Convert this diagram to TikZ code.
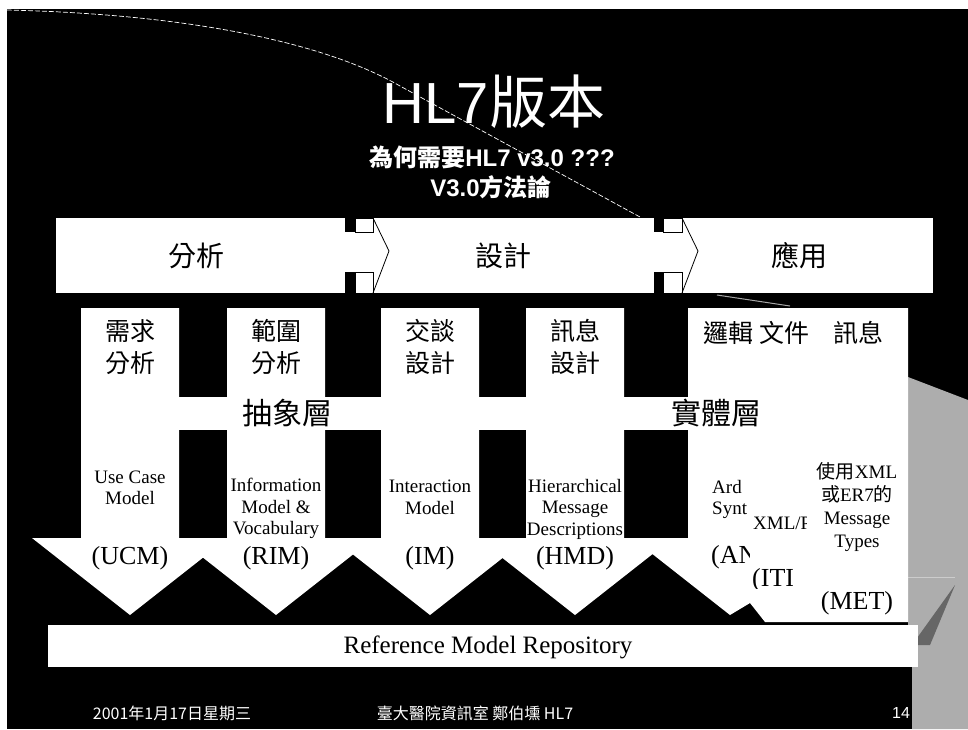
\documentclass[tikz,border=0pt]{standalone}
\usepackage{fontspec}
\setmainfont{Liberation Serif}
\setsansfont{Liberation Sans}
\newfontfamily\cjk{Noto Sans CJK TC}
\begin{document}
\begin{tikzpicture}[x=1pt,y=-1pt,
  bandtxt/.style={font=\cjk\fontsize{28}{30}\selectfont, text=black, inner sep=0pt},
  hdrtxt/.style={font=\cjk\fontsize{25}{32}\selectfont, text=black, align=center, inner sep=0pt},
  layertxt/.style={font=\cjk\fontsize{30}{32}\selectfont, text=black, inner sep=0pt},
  modeltxt/.style={font=\fontsize{19}{21.5}\selectfont, text=black, align=center, inner sep=0pt},
  abbrtxt/.style={font=\fontsize{26}{28}\selectfont, text=black, inner sep=0pt},
  foottxt/.style={font=\cjk\fontsize{16}{18}\selectfont, text=white, inner sep=0pt},
  edgeline/.style={draw=black, line width=0.8pt},
  curlline/.style={draw=white, line width=0.7pt, dash pattern=on 5pt off 2pt}
]
\useasboundingbox (0,0) rectangle (968,729);
% background
\fill[white] (0,0) rectangle (968,729);
\fill[black] (7,9) rectangle (968,729);
% page-curl edge line
\draw[curlline] (7,10) .. controls (180,14) and (320,40) .. (400,86) -- (640,217);
\draw[draw=black!35, line width=1pt] (717,295) -- (790,306);
% grey region at right
\fill[black!32] (908,377) -- (968,400) -- (968,729) -- (912,729) -- (912,667) -- (918,667) -- (918,625) -- (908,625) -- cycle;
\fill[black!60] (912,645) -- (955,585) -- (930,645) -- cycle;
\draw[black!20, line width=0.8pt] (908,577) -- (955,577);

% title
\node (title) at (494,102) {\fontsize{58}{62}\selectfont\sffamily\color{white}HL7{\cjk 版本}};
\node (sub1) at (492,157) {\bfseries\fontsize{24}{26}\selectfont\color{white}{\cjk 為何需要}\sffamily HL7 v3.0 ???};
\node (sub2) at (491,187) {\bfseries\fontsize{24}{26}\selectfont\color{white}\sffamily V3.0{\cjk 方法論}};

% phase band
\fill[white] (56,218) rectangle (933,293);
\fill[black] (345,218) rectangle (355,232);
\fill[black] (345,272) rectangle (355,293);
\draw[edgeline] (355,218) rectangle (373,232);
\draw[edgeline] (355,272) rectangle (373,293);
\draw[edgeline] (373,218) -- (389,251) -- (373,293);
\fill[black] (654,218) rectangle (663,232);
\fill[black] (654,272) rectangle (663,293);
\draw[edgeline] (663,218) rectangle (682,232);
\draw[edgeline] (663,272) rectangle (682,293);
\draw[edgeline] (682,218) -- (698,251) -- (682,293);
\node[bandtxt] (ph1) at (196,256) {分析};
\node[bandtxt] (ph2) at (503,256) {設計};
\node[bandtxt] (ph3) at (799,256) {應用};

% down arrows
\foreach \c in {130,276,430,575}
  \fill[white] (\c-49,308) -- (\c+49,308) -- (\c+49,538) -- (\c+98,538) -- (\c,615) -- (\c-98,538) -- (\c-49,538) -- cycle;
\fill[white] (688,308) -- (908,308) -- (908,622) -- (765,622) -- (750,603) -- (730,615) -- (632,538) -- (688,538) -- cycle;
% layer band
\fill[white] (81,397) rectangle (908,430);

% column headers
\node[hdrtxt] (h1) at (130,347) {需求\\分析};
\node[hdrtxt] (h2) at (276,347) {範圍\\分析};
\node[hdrtxt] (h3) at (430,347) {交談\\設計};
\node[hdrtxt] (h4) at (575,347) {訊息\\設計};
\node[hdrtxt] (h5a) at (728,333) {邏輯};
\node[hdrtxt] (h5b) at (784,333) {文件};
\node[hdrtxt] (h5c) at (858,333) {訊息};

% layer labels
\node[layertxt] (abs) at (287,413) {抽象層};
\node[layertxt] (conc) at (716,413) {實體層};

% model labels
\node[modeltxt] (m1) at (130,488) {Use Case\\Model};
\node[modeltxt] (m2) at (276,508.5) {Information\\Model \&\\Vocabulary};
\node[modeltxt] (m3) at (430,497.5) {Interaction\\Model};
\node[modeltxt] (m4) at (575,509) {Hierarchical\\Message\\Descriptions};
\node[abbrtxt] (a1) at (130,558) {(UCM)};
\node[abbrtxt] (a2) at (276,558) {(RIM)};
\node[abbrtxt] (a3) at (430,558) {(IM)};
\node[abbrtxt] (a4) at (575,558) {(HMD)};

\begin{scope}
  \clip (700,460) rectangle (749,600);
  \node[modeltxt, anchor=west] (m5a) at (712,487) {Ard};
  \node[modeltxt, anchor=west] (m5b) at (712,510) {Synt};
  \node[abbrtxt, anchor=west] (a5a) at (711,557) {(AN};
\end{scope}
\begin{scope}
  \clip (750,500) rectangle (806,588);
  \node[modeltxt, anchor=west] (m5c) at (753,523) {XML/P};
  \node[abbrtxt, anchor=west] (a5b) at (752,580) {(ITI};
\end{scope}
\node[modeltxt, font=\fontsize{19}{23}\selectfont] (m5d) at (857,507.5) {{\cjk 使用}XML\\{\cjk 或}ER7{\cjk 的}\\Message\\Types};
\node[abbrtxt] (a5c) at (857,603) {(MET)};

% repository
\fill[white] (48,625) rectangle (918,667);
\node[font=\fontsize{25}{27}\selectfont, text=black, inner sep=0pt] (repo) at (488,647) {Reference Model Repository};

% footer
\node[foottxt] (date) at (172,713) {2001年1月17日星期三};
\node[foottxt] (org) at (475,713) {臺大醫院資訊室 鄭伯壎 HL7};
\node[foottxt, font=\sffamily\fontsize{16}{18}\selectfont] (page) at (901,713) {14};
\end{tikzpicture}
\end{document}
